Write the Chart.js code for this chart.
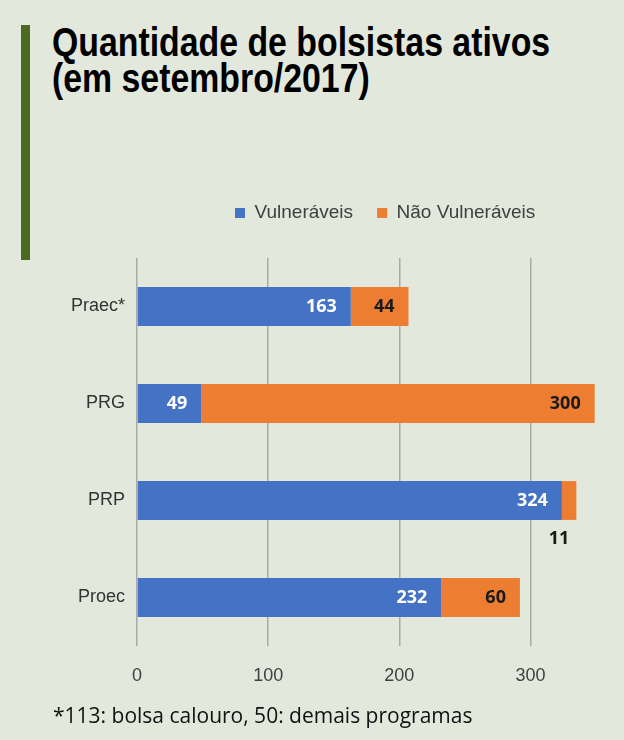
<!DOCTYPE html>
<html lang="pt-BR">
<head>
<meta charset="utf-8">
<title>Quantidade de bolsistas ativos</title>
<script src="https://cdn.jsdelivr.net/npm/chart.js@4.4.1/dist/chart.umd.min.js"></script>
<style>
  html, body { margin: 0; padding: 0; }
  body { width: 624px; height: 740px; background: #e2e8dc; position: relative; overflow: hidden; }
  .marca { position: absolute; left: 21px; top: 25px; width: 9px; height: 235px; background: #4a6a1f; }
  h1 { position: absolute; left: 52px; top: 24px; margin: 0; white-space: nowrap;
       font: bold 41px/36px 'Liberation Sans', Arial, sans-serif; color: #000;
       transform: scaleX(0.825); transform-origin: 0 0; }
  #grafico { position: absolute; left: 0; top: 0; }
  .nota { position: absolute; left: 53px; top: 701px; font: 21px/28px 'Open Sans', sans-serif; color: #111; }
</style>
</head>
<body>
<div class="marca"></div>
<h1>Quantidade de bolsistas ativos<br>(em setembro/2017)</h1>
<canvas id="grafico" width="624" height="740"></canvas>
<div class="nota">*113: bolsa calouro, 50: demais programas</div>

<script>
const categorias = ['Praec*', 'PRG', 'PRP', 'Proec'];
const vulneraveis = [163, 49, 324, 232];
const naoVulneraveis = [44, 300, 11, 60];
const ticksX = [0, 100, 200, 300];
const maxX = 350;

const cores = ['#4472c4', '#ed7d31'];
const coresRotulo = ['#ffffff', '#1a1a1a'];

// rótulos de valor dentro da barra (ou abaixo, se não couber)
const rotulos = {
    id: 'rotulos',
    afterDatasetsDraw(chart) {
        const ctx = chart.ctx;
        ctx.save();
        ctx.font = 'bold 18px "Open Sans"';
        ctx.textBaseline = 'middle';
        chart.data.datasets.forEach((ds, i) => {
            chart.getDatasetMeta(i).data.forEach((bar, j) => {
                const { x, y, base, height } = bar.getProps(['x', 'y', 'base', 'height'], true);
                const txt = String(ds.data[j]);
                const w = ctx.measureText(txt).width;
                if (x - base < w + 20) {
                    ctx.fillStyle = '#1a1a1a';
                    ctx.textAlign = 'center';
                    ctx.fillText(txt, (x + base) / 2 - 10, y + height / 2 + 19);
                } else {
                    ctx.fillStyle = coresRotulo[i];
                    ctx.textAlign = 'right';
                    ctx.fillText(txt, x - 14, y);
                }
            });
        });
        ctx.restore();
    }
};

// legenda: altura fixa e deslocada para a direita, como no original
const ajusteLegenda = {
    id: 'ajusteLegenda',
    beforeInit(chart) {
        const fitOriginal = chart.legend.fit;
        chart.legend.fit = function () {
            fitOriginal.call(this);
            this.height = 78.5;
        };
    },
    afterLayout(chart) {
        chart.legend.left = 211;
        chart.legend.right = 624;
    }
};

new Chart(document.getElementById('grafico'), {
    type: 'bar',
    data: {
        labels: categorias,
        datasets: [
            { label: 'Vulneráveis', data: vulneraveis, backgroundColor: cores[0], borderWidth: 0, categoryPercentage: 1, barPercentage: 0.4 },
            { label: 'Não Vulneráveis', data: naoVulneraveis, backgroundColor: cores[1], borderWidth: 0, categoryPercentage: 1, barPercentage: 0.4 }
        ]
    },
    options: {
        indexAxis: 'y',
        responsive: false,
        animation: false,
        layout: { padding: { top: 179.5, right: 28, bottom: 0, left: 0 } },
        plugins: {
            tooltip: { enabled: false },
            legend: {
                position: 'top',
                align: 'start',
                labels: {
                    boxWidth: 10,
                    boxHeight: 10,
                    padding: 24,
                    color: '#404040',
                    font: { family: 'Liberation Sans', size: 19 }
                }
            }
        },
        scales: {
            x: {
                stacked: true,
                min: 0,
                max: maxX,
                afterBuildTicks(axis) { axis.ticks = ticksX.map(v => ({ value: v })); },
                afterFit(axis) { axis.height = 94; },
                grid: { color: '#a9a9a9', lineWidth: 1.5, drawTicks: false },
                border: { display: false },
                ticks: { padding: 19, color: '#404040', font: { family: 'Liberation Sans', size: 18 } }
            },
            y: {
                stacked: true,
                afterFit(axis) { axis.width = 137; },
                grid: { display: false, drawTicks: false },
                border: { display: false },
                ticks: { padding: 12, color: '#333333', font: { family: 'Liberation Sans', size: 18 } }
            }
        }
    },
    plugins: [rotulos, ajusteLegenda]
});
</script>
</body>
</html>
